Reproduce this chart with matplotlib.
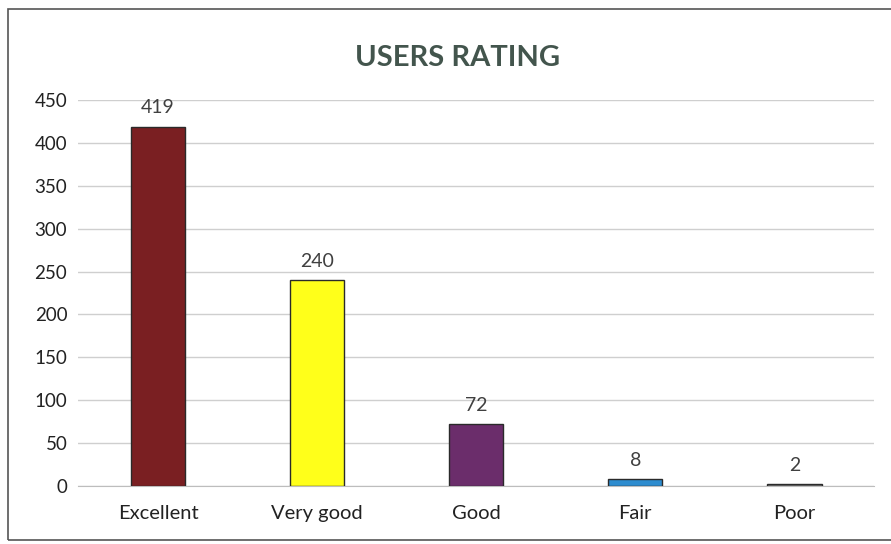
import matplotlib.pyplot as plt
from matplotlib.patches import Rectangle

categories = ["Excellent", "Very good", "Good", "Fair", "Poor"]
ratings = [419, 240, 72, 8, 2]
bar_colors = ["#7a1f22", "#ffff1a", "#6b2d6b", "#2d8ccf", "#7a7a7a"]
yticks = [0, 50, 100, 150, 200, 250, 300, 350, 400, 450]

plt.rcParams['font.family'] = ['Lato', 'DejaVu Sans']

fig = plt.figure(figsize=(8.91, 5.44), dpi=100)
ax = fig.add_axes([0.088, 0.1066, 0.893, 0.7096])

x = range(len(categories))
ax.bar(x, ratings, width=0.34, color=bar_colors, edgecolor="#2a2a2a",
       linewidth=1.0, zorder=3)
for i, v in enumerate(ratings):
    ax.text(i, v + 12, str(v), ha="center", va="bottom", fontsize=14,
            color="#404040")

ax.set_xlim(-0.5, len(categories) - 0.5)
ax.set_ylim(0, 450)
ax.set_yticks(yticks)
ax.set_yticklabels([str(t) for t in yticks], fontsize=13.5, color="#222222")
ax.set_xticks(list(x))
ax.set_xticklabels(categories, fontsize=14.5, color="#222222")
ax.tick_params(axis="both", length=0, pad=8)
ax.tick_params(axis="x", pad=14)
ax.grid(axis="y", color="#cfcfcf", linewidth=1.0, zorder=0)
for s in ["top", "right", "left"]:
    ax.spines[s].set_visible(False)
ax.spines["bottom"].set_color("#bdbdbd")

fig.text(0.513, 0.893, "USERS RATING", ha="center", va="center",
         fontsize=21, fontweight="bold", color="#43554d")

fig.patches.append(Rectangle((0.009, 0.008), 1.2, 0.975, transform=fig.transFigure,
                             fill=False, edgecolor="#555555", linewidth=1.2))

fig.savefig("out.png", dpi=100)
